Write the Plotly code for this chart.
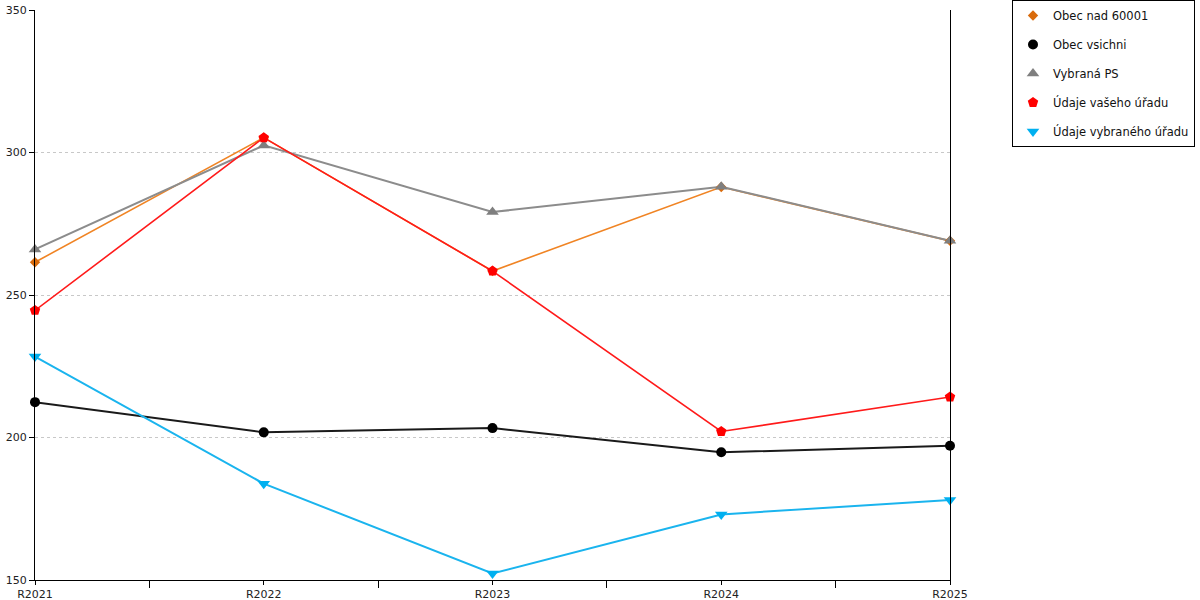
import plotly.graph_objects as go

categories = ["R2021", "R2022", "R2023", "R2024", "R2025"]
obec_nad_60001 = [261.5, 305.2, 258.4, 287.9, 269.0]
obec_vsichni = [212.4, 201.8, 203.3, 194.8, 197.1]
vybrana_ps = [266.0, 302.5, 279.1, 288.0, 269.0]
udaje_vaseho = [244.6, 305.2, 258.4, 202.1, 214.2]
udaje_vybraneho = [228.4, 183.8, 152.3, 173.0, 178.1]
y_ticks = [150, 200, 250, 300, 350]

xpos = list(range(len(categories)))

series = [
    ("Obec nad 60001", obec_nad_60001, "#F08424", "#D96B0C", "diamond", 8, 1.6),
    ("Obec vsichni", obec_vsichni, "#1a1a1a", "#000000", "circle", 10, 2.0),
    ("Vybraná PS", vybrana_ps, "#8c8c8c", "#7f7f7f", "triangle-up", 11, 2.0),
    ("Údaje vašeho úřadu", udaje_vaseho, "#FF1A1A", "#FF0000", "pentagon", 11, 1.6),
    ("Údaje vybraného úřadu", udaje_vybraneho, "#1AB4EE", "#00B0F0", "triangle-down", 11, 2.0),
]

fig = go.Figure()
for name, vals, lc, mc, sym, ms, lw in series:
    fig.add_trace(go.Scatter(
        x=xpos, y=vals, name=name, mode="lines",
        line=dict(color=lc, width=lw),
        showlegend=False, legendgroup=name,
    ))
for name, vals, lc, mc, sym, ms, lw in series:
    fig.add_trace(go.Scatter(
        x=xpos, y=vals, name=name, mode="markers",
        marker=dict(symbol=sym, size=ms, color=mc, line=dict(width=0)),
        cliponaxis=False, legendgroup=name,
    ))

W, H = 1200, 600
L, R, T, B = 35, 250, 10, 20
pw, ph = W - L - R, H - T - B

fig.update_layout(
    width=W, height=H,
    margin=dict(l=L, r=R, t=T, b=B, autoexpand=False),
    plot_bgcolor="white", paper_bgcolor="white",
    font=dict(family="DejaVu Sans", size=11, color="#222"),
    showlegend=True,
    legend=dict(
        x=(1012 - L) / pw, y=(ph + T) / ph, xanchor="left", yanchor="top",
        bordercolor="black", borderwidth=1, bgcolor="white",
        font=dict(size=11.5, color="#111"),
        itemwidth=30, tracegroupgap=10,
    ),
    xaxis=dict(
        range=[0, len(categories) - 1],
        tickmode="array", tickvals=xpos, ticktext=categories,
        showgrid=False, zeroline=False,
        showline=True, linecolor="black", linewidth=1,
        ticks="outside", ticklen=4, tickcolor="black",
        minor=dict(tickmode="array", tickvals=[i + 0.5 for i in xpos[:-1]],
                   ticks="outside", ticklen=7, tickcolor="black", showgrid=False),
        tickfont=dict(size=11),
        ticklabeloverflow="allow",
    ),
    yaxis=dict(
        range=[150, 350], tickvals=y_ticks,
        showgrid=True, gridcolor="#c8c8c8", griddash="dot", gridwidth=1,
        zeroline=False,
        showline=True, linecolor="black", linewidth=1, mirror=True,
        ticks="outside", ticklen=5, tickcolor="black",
        tickfont=dict(size=11),
        ticklabeloverflow="allow",
    ),
)

fig.write_html("out.html", config={"displayModeBar": False},
               post_script="document.body.style.margin='0';")
